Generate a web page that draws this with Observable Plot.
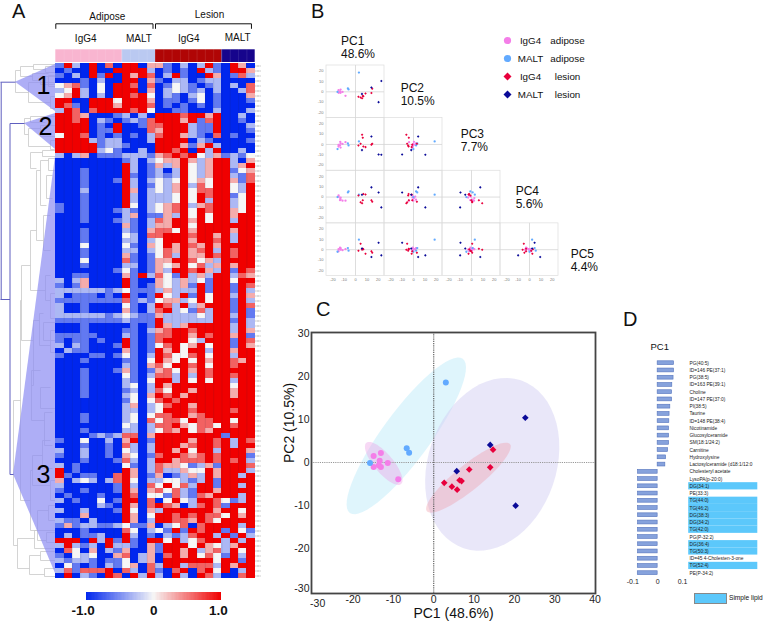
<!DOCTYPE html>
<html><head><meta charset="utf-8">
<script src="https://cdn.jsdelivr.net/npm/d3@7"></script>
<script src="https://cdn.jsdelivr.net/npm/@observablehq/plot@0.6"></script>
<style>
html,body{margin:0;padding:0;background:#fff}
#page{position:relative;width:766px;height:622px;overflow:hidden;background:#fff;font-family:"Liberation Sans",Arial,sans-serif;color:#111}
#page svg{position:absolute;overflow:visible;background:transparent}
.lb{position:absolute;white-space:nowrap;line-height:1}
</style></head><body><div id="page"></div>
<script>
const FONT = '"Liberation Sans",Arial,sans-serif';
// ---------- A: heat map (one string per row; levels below)
const levelValues = {B:-1,b:-0.6,c:-0.3,w:0,s:0.3,r:0.6,R:1};
const heatRows = [
"bRcBRBrB RRBs sbBcBcRb BRsB","BbBBRBBR RRRc BbBbBRcb BRRs","bBcBRbRB RsRr BcRbBBRs Bbrc","BBBbBcBB RRBs bBccBbcc BBBB",
"wsrbBwBR RrBr BbwcbBbc BcBr","cwRcBwBR RRBs BcwcbcBc BBcr","wsRcBcBR RrRw BcbBcwBb BBBs","RRBBRRRw RRRs BbbBbwBb BBBb",
"RrbBRRRs RRRr BbBbBbBb BBBB","cRrBrRRR RrRw BBbbBBBc BBBc",
"RRrsBBBb cBcB RRRrRRsR BBcB","RRrRBcbB bcbr RRRsRbrR BBbB","RRRRBbBR BBbr rRRRcbbR BBBc","RRRRBbbR BBBr sRRRcbbR BBBb",
"wRRrBbBb BbBc rRRscbBr BbBB","RRRRcbcc BBBc RRRRBcbB BBBb","RRRRRbcc bBBB RRRsbsRc BBBB","RRRRRcwb BBcB RRrRBRcR BBcB",
"cBcsBbbb cccb srRrRwcs bcbw","BBBBBBBB bcBc wssRscsR RcBs","BBBBBBBB RcBb scsRwcsR RcsR","BBBbBBBB RcBb cBcRwcsR Rbws",
"BBBbBBBB RbBb cbcRwcsR Rcbr","BBBbBBBb RcBc wcwRwswR Rsbr","BBBbBBBB RcBb wcsRcrwR RwcR","BBBcBBBB RsBc wcsRwrrR RwcR",
"BBBbBBBB RcBc ccwRwRrR RbwR","BBBbBBBB RcBc ccwRwRcR RcwR","bBBbBBBB RwBc wsrRcsrR RcwR","bBBbBBBb cbBc wsrRwRrR RswR",
"BBBbBBBB csBb bscRwRwR RsRR","BBBbBBBb cbBc rsRRsRwR RcRR","BBBBBBBB sbBc ssRRwRRR RRRR","BBBbBBBB cbBs rrwRsRRR RsRR",
"BBBbBBBB wcBr rRRRrRRs RcRR","BBBbBBBB ccBc wRRRsRRr RcRR","BBBwBBBB wbBs wRsRrsRs RRRR","BBBbBBBB ccBc wrsRsrRc RrRR",
"BBBbBBBB sbBb wrcRssRr RrRR","BBBwBBBB rbBb ssRRrwsc RRRR","BBBbBBBB ccBb swsRwrcs RsRR","BBBBBBBb wbBb scRRrRsc RbRr",
"BBbbBBBB sbRc rwbRcscR Rcrs","cBcsBBBB RbBB swcscwbR RwRR","bBbsBBBB RbBb swcsbRbR RbRr","ccccccbc wbbb cscccRbR RbRc",
"cBbbbBbB RbBb RwcRbRwR RcRs","bbbbbbbb rbcb wsscwRwR RbRc","cBBbBBBB wbBc RrcRcsRR RbRr","cBBbBBBB sbBc rRcwbrcR RbRb",
"ccccccbc wcbb sccccwcR RcRb","bbbbbbbb cbbb RccccccR RbRc","BBBbBBBB BbBb RscsRRRR RcRc","BBBbBBBB bbBc srRRrRRR RcRs",
"bbbbbBBB cbBb rrRRsRrR RsRb","bBbbBbBB RbBb rRRRwcRR RbRr","cBcbBBBb RbBb wrRwsRwR RbRs","BcbbBBBB sbBb RsRwRRcR RsRR",
"bBBBbbBb wbBc RrwwrRwR RcRR","BBBbBBBB bbBw RswRwRsR RrsR","BBBBBBBB cbBs rwRRrRwR RrRR","BBBbBBBb sbBb srwRsRrR RRRR",
"BBBbBBBB wbBc rrcRcRrR RrRR","BBBbBBBB cbBw RRcRwRwR RcRR","BBBbBBBB cwBc RsRRRRRR RwRR","BBBbBBBB bcBc rwRRsRRR RsRR",
"BBBbBBBB cwBs RrRsRRRR RsRR","BBBBBBBB bwBw rRrRRRRR RRRR","BBBBBBBB csBc wrRRsRRR RRRR","BBBBBBBB ccBc wRRRrRRR RrRR",
"BBBbBBBB cwBw rrRRsrRR RRRR","BBBbBBBB cwBr wrrwRrrR RwRR","BBBBBBBB wcBc rrRswrrw RrRR","BBBbBBBB ccBc wrsRwrsR RRRR",
"BBBBbcbc rrBs RRRRRRRR bRRR","bBBwBBcB sRBb RRRRsRRr RcRr","BBBbBBbB rcBc RRRsrRRr RcRR","cBBcBBbB wcBc RRsRwRRc RRRs",
"bBBcBBbB swBb rRRrsrRr RRRb","BBBbBBBb rcBc RRsrrrRr RrRc","cBbBBBBB wbBc rsswbcsb RRRr","RBbBBBBB RsBc rccswwRs RRRc",
"RbBbbBBr RsBb sBbcscRs RRcR","sBcwcBcr RwBc cwwcbcRb RRRR","cBBBBBBb RcBr wRwrcRRb RRcR","bBBbBBBb RsBs rwrcbRRs RRRR",
"BbBBBbBB RrBw wbrcbrsR RRcR","cBbBBwBb RRBr BwRwcRRr wbcR","BBBBBcbB RsBr RrsBcrRr bRRR","cBBcBBBb RwBs cRRRRRRs RRwR",
"BBBsBBBB RsBw RRrRrRrr wRsR","cbbBcBBB RsBc RRrrsRrw RRRR","bsbccbbc wbbs BcwrBrRR RRcR","BBBbBBBB rwBc wbRbRrRR bRwb",
"BcBbbcBB RcBb BcbcrRRc RbRc","RRRBRcRb RbBR RwRcwrRR cRcR","cRcbcBRc cbBs bRRRwRsw csRR","BrwBsBcb sBBs bRRsRcsr cRwR",
"bBwcwBBs rBcs BrRsRwrw bRcR","cbccbBbb wBcs BRRRRRRw RRbR","BwbBbBcb wsBr cRRcrrrc RsRR","crbrrrRB rcBr bBrRBrRw RBcR",
"BRBcbBRr BRcR cBRcBRrc BBrR"];
const sampleGroups = [["IgG4 adipose",0,8,"#f9b5d0"],["MALT adipose",8,12,"#bac9f1"],["IgG4 lesion",12,20,"#b00505"],["MALT lesion",20,24,"#16048c"]];
const headerWords = [["Adipose",6.2,16],["Lesion",18.5,14],["IgG4",3.6,38],["MALT",10.0,38],["IgG4",16.0,38],["MALT",21.9,37.5]];
const brackets = [[0,11.7],[12,23.55]];
const heatColor = {type:"linear",domain:[-1,0,1],range:["#0026ee","#f6f6f6","#f00000"]};
// dendrogram: [merge x, row-y top, row-y bottom, child x top, child x bottom]
const greyTree = [[15,70,92,20,28],[20,66,76,33,32],[33,64,69,55,45],[32,73,80,48,40],[28,82,102,55,50],[50,96,108,55,55],[45,66,72,55,55],[48,75,86,55,55],[40,76,84,55,55],
[24,118,134,30,28],[30,116,122,55,45],[28,128,146,40,50],[40,125,136,55,55],[50,140,149,55,55],
[13,400,545,20,17],[20,300,500,21,30],[21,265,340,30,33],[30,230,290,36,45],[36,170,240,40,43],[40,160,205,48,46],[48,158,170,55,55],[46,175,198,52,52],[43,215,250,50,50],[45,275,300,50,50],[50,293,318,55,55],[33,320,385,39,31],[39,313,345,43,50],[43,322,340,55,55],[50,330,352,55,55],[31,370,420,40,44],[40,387,408,50,55],[44,412,445,52,52],[30,470,530,32,37],[32,455,485,42,50],[42,440,468,50,52],[50,480,500,55,55],[37,510,540,48,46],[48,505,520,55,55],[46,532,542,55,55],[17,538,568,34,29],[34,530,548,55,55],[29,555,574,40,44],[40,551,560,55,55],[44,568,576,55,55],[30,152,168,42,36],[42,150,156,55,55]];
const clusterWedges = [["1",15,81.7,64,111,43,85],["2",24,123,113,149,45,126],["3",13,474,156,573,43,474]];
const rootLinks = [[0,81.7,15,81.7],[0.7,81.7,0.7,299],[0,299,9.5,299],[9.5,123,9.5,474],[9.5,123,24,123],[9.5,474,13,474]];
const barTicks = [[-1.045,"-1.0"],[0,"0"],[0.955,"1.0"]];
// ---------- B + C: PCA scores, samples as [PC1,PC2,PC3,PC4,PC5]
const pcNames = ["PC1","PC2","PC3","PC4","PC5"];
const pcLabels = [["PC1","48.6%",341,41],["PC2","10.5%",400.7,88],["PC3","7.7%",460.7,134],["PC4","5.6%",515.7,191],["PC5","4.4%",570.7,254]];
const igg4Adipose = [[-14.9,1.5,-0.5,0.5,0.5],[-13.1,2.2,1,-2.5,1.5],[-13.4,0.4,2.5,-1,0.5],[-11.4,-0.1,0.5,-3.5,-0.5],[-13.6,-0.6,-1,-3,2],[-14.9,-1,-2,1.5,-1.5],[-13.1,-1,-3,-0.5,0],[-8.8,-3.9,2.2,-3.5,0.5]];
const maltAdipose = [[3,18.6,2.9,2.3,9.7],[-6.7,3.3,1,4.5,1.6],[-6.1,2.3,-1,5.5,-1],[-15.8,-0.1,-4.5,0,-2]];
const igg4Lesion = [[14.7,3,0.6,-4.5,-3],[14,-1.1,-0.2,-3,-1.6],[8.8,-1.6,-2.6,2.5,-4],[6.4,-4.1,6.5,-3,1],[6.9,-4.3,-2,3,0.5],[2.6,-4.7,-1,1.5,-1],[4.5,-5.6,0.6,-5,5.8],[5.8,-6.3,9.4,-6,0]];
const maltLesion = [[22.7,10.4,-10,-10,-5.5],[14,4.1,7.7,9.4,-7],[5.7,-2,-5.5,2.3,1.2],[20.3,-10,-9.7,4.5,6.8]];
const groupNames = ["IgG4 adipose","MALT adipose","IgG4 lesion","MALT lesion"];
const groupColors = ["#f47ee8","#62aaff","#e8003c","#0a0a98"];
const groupSymbols = ["circle","circle","diamond2","diamond2"];
const legendWords = [["IgG4","adipose"],["MALT","adipose"],["IgG4","lesion"],["MALT","lesion"]];
// ellipses: [group, cx, cy, ux, uy, vx, vy, fill, opacity]
const ellipses = [["MALT adipose",-6.8,6.2,14,17.9,4.8,-3.3,"#c5ecfa",0.55],["MALT lesion",14.5,-0.4,2.1,20,16.5,1.5,"#d3cff3",0.5],["IgG4 adipose",-12.4,-0.2,4.3,-4.8,1.8,1.4,"#ea9fe6",0.4],["IgG4 lesion",8.6,-3.5,10.3,7.8,2,-2.3,"#ef9aa8",0.38]];
// ---------- D: loadings on PC1
const lipidNames = ["PG(40:5)","ID=146 PE(37:1)","PG(38:5)","ID=163 PE(39:1)","Choline","ID=147 PE(37:0)","PI(38:5)","Taurine","ID=148 PE(38:4)","Nicotinamide","Glucosylceramide","SM(18:1/24:2)","Carnitine","Hydroxylysine","Lactosylceramide (d18:1/12:0","Cholesteryl acetate","LysoPA(p-20:0)","DG(34:1)","PE(33:3)","TG(44:0)","TG(46:2)","DG(38:3)","DG(34:2)","TG(42:0)","PG(P-32:2)","DG(36:4)","TG(50:3)","ID=45 4-Cholesten-3-one","TG(52:4)","PE(P-34:2)"];
const lipidLoadings = [0.066,0.066,0.064,0.059,0.058,0.058,0.051,0.048,0.047,0.046,0.046,0.046,0.042,0.034,0.031,-0.079,-0.079,-0.079,-0.079,-0.079,-0.079,-0.079,-0.079,-0.079,-0.079,-0.079,-0.079,-0.08,-0.08,-0.08];
const simpleLipids = ["DG(34:1)","TG(44:0)","TG(46:2)","DG(38:3)","DG(34:2)","TG(42:0)","DG(36:4)","TG(50:3)","TG(52:4)"];

const page = document.getElementById("page");
function put(svg,left,top){svg.style.left=left+"px";svg.style.top=top+"px";page.appendChild(svg);}
function label(t,x,y,size,opt={}){const d=document.createElement("div");d.className="lb";d.textContent=t;d.style.left=x+"px";d.style.top=(y-size/2)+"px";d.style.fontSize=size+"px";if(opt.weight)d.style.fontWeight=opt.weight;page.appendChild(d);}
const base = {style:{background:"transparent",fontFamily:FONT,color:"#111"}};

// Dendrogram (x: position, y: row position along the heat map)
const treeSegments = greyTree.flatMap(([x,y1,y2,a,b])=>[{x1:x,y1,x2:x,y2},{x1:x,y1,x2:a,y2:y1},{x1:x,y1:y2,x2:b,y2}]);
put(Plot.plot({...base,width:56,height:622,margin:0,x:{domain:[0,56],range:[0,56],axis:null},y:{domain:[0,622],range:[0,622],axis:null},
 marks:[
  Plot.link(treeSegments,{x1:"x1",y1:"y1",x2:"x2",y2:"y2",stroke:"#c9c9c9",strokeWidth:0.8}),
  ...clusterWedges.map(([n,ax,ay,t,b])=>Plot.areaY([{x:ax,y1:ay,y2:ay},{x:55,y1:t,y2:b}],{x:"x",y1:"y1",y2:"y2",fill:"#8f8ff2",fillOpacity:0.72,curve:"linear"})),
  Plot.link(rootLinks,{x1:d=>d[0],y1:d=>d[1],x2:d=>d[2],y2:d=>d[3],stroke:"#5f5fbf",strokeWidth:1}),
  Plot.text(clusterWedges,{x:d=>d[5],y:d=>d[6],text:d=>d[0],fontSize:25,fill:"#000"})
 ]}),0,0);

// Header
put(Plot.plot({...base,width:266,height:64,margin:0,x:{domain:[0,24],range:[55.3,254.7],axis:null},y:{domain:[0,64],range:[0,64],axis:null},
 marks:[
  Plot.rect(sampleGroups,{x1:d=>d[1],x2:d=>d[2],y1:49.3,y2:62,fill:d=>d[3]}),
  Plot.ruleX(d3.range(1,24),{y1:49.3,y2:62,stroke:"#fff",strokeOpacity:0.18,strokeWidth:0.6}),
  Plot.link(brackets.flatMap(([a,b])=>[{a,b,y1:23.3,y2:23.3},{a,b:a,y1:23.3,y2:28.3},{a:b,b,y1:23.3,y2:28.3}]),{x1:"a",x2:"b",y1:"y1",y2:"y2",stroke:"#111",strokeWidth:1}),
  Plot.text(headerWords,{x:d=>d[1],y:d=>d[2],text:d=>d[0],fontSize:10,fill:"#111"})
 ]}),0,0);

// Heat map
const columns = d3.range(24);
const heatCells = heatRows.flatMap((row,i)=>[...row.replace(/ /g,"")].map((c,j)=>({row:i,col:j,value:levelValues[c]})));
put(Plot.plot({...base,width:266,height:580,margin:0,
 x:{domain:[...columns,"names"],range:[55.3,263],padding:0,round:false,axis:null},
 y:{domain:d3.range(heatRows.length),range:[63,578],padding:0,round:false,axis:null},
 color:heatColor,
 marks:[
  Plot.cell(heatCells,{x:"col",y:"row",fill:"value",shapeRendering:"crispEdges"}),
  Plot.ruleX(d3.range(1,24),{x:c=>c,stroke:"#223",strokeOpacity:0.22,strokeWidth:0.5,dx:-4.15,y1:0,y2:heatRows.length-1}),
  Plot.tickY(d3.range(heatRows.length),{x:()=>"names",y:d=>d,stroke:"#bbb",strokeWidth:1.6,strokeDasharray:"0.8,0.6",insetRight:2.5,insetLeft:0.8})
 ]}),0,0);

// Colour bar
put(Plot.plot({...base,width:266,height:32,margin:0,
 x:{domain:[-1,1],range:[85.7,221],axis:null},y:{domain:[0,1],range:[8,0],axis:null},color:heatColor,
 marks:[Plot.rect(d3.range(-1,1,0.02),{x1:d=>d,x2:d=>d+0.021,y1:0,y2:1,fill:d=>d+0.01,shapeRendering:"crispEdges"}),
  Plot.text(barTicks,{x:d=>d[0],y:()=>0,dy:10.5,text:d=>d[1],fontSize:13.5,fontWeight:"bold",fill:"#111"})]}),0,592);

// Scores
const allSamples = [igg4Adipose,maltAdipose,igg4Lesion,maltLesion].flatMap((arr,g)=>arr.map(v=>({group:groupNames[g],v})));
const pairRows = [];
pcNames.forEach((cn,i)=>pcNames.forEach((rn,j)=>{ if(i<j) allSamples.forEach(s=>pairRows.push({col:cn,row:rn,x:s.v[i],y:s.v[j],group:s.group})); }));
const colorScale = {domain:groupNames,range:groupColors};
const symbolScale = {domain:groupNames,range:groupSymbols};
const panels = pairRows.filter((d,i,a)=>a.findIndex(e=>e.col===d.col&&e.row===d.row)===i);
const t5 = d3.range(-20,21,10);
put(Plot.plot({...base,width:262,height:224,marginLeft:26,marginRight:4,marginTop:2,marginBottom:11.5,
 x:{domain:[-25.5,25.5]},y:{domain:[-25.5,25.5]},color:colorScale,symbol:symbolScale,
 fx:{domain:pcNames.slice(0,4),padding:0,round:false,axis:null},fy:{domain:pcNames.slice(1),padding:0,round:false,axis:null},
 marks:[
  Plot.rect(panels,{fx:"col",fy:"row",stroke:"#dddddd",strokeWidth:0.7,fill:"none"}),
  Plot.ruleX(panels,{fx:"col",fy:"row",x:()=>0,stroke:"#d4d4d4",strokeWidth:0.8}),
  Plot.ruleY(panels,{fx:"col",fy:"row",y:()=>0,stroke:"#d4d4d4",strokeWidth:0.8}),
  Plot.axisX({ticks:t5,tickFormat:d=>d,tickSize:0,tickPadding:2,fontSize:4,fill:"#777",label:null}),
  Plot.axisY({ticks:t5,tickFormat:d=>d,tickSize:0,tickPadding:3,fontSize:4,fill:"#777",label:null}),
  Plot.dot(pairRows,{fx:"col",fy:"row",x:"x",y:"y",fill:"group",symbol:"group",r:1.15,stroke:"none"})
 ]}),300,63);
pcLabels.forEach(([a,b,x,y])=>{label(a,x,y,12);label(b,x,y+13.4,12);});

// Legend of B
put(Plot.plot({...base,width:100,height:56,margin:0,x:{domain:[0,100],range:[0,100],axis:null},
 y:{domain:groupNames,range:[1,55],padding:0,axis:null},color:colorScale,symbol:symbolScale,
 marks:[Plot.dot(groupNames,{x:()=>7,y:d=>d,fill:d=>d,symbol:d=>d,r:3.6,stroke:"none"}),
  Plot.text(groupNames,{x:()=>30,y:d=>d,text:(d,i)=>legendWords[i][0],fontSize:9.8,fill:"#111"}),
  Plot.text(groupNames,{x:()=>67,y:d=>d,text:(d,i)=>legendWords[i][1],fontSize:9.8,fill:"#111"})]}),500,38.5);

// Panel C
function ellipseRing([g,cx,cy,ux,uy,vx,vy]){return d3.range(0,361,6).map(a=>{const t=a*Math.PI/180;return{x:cx+ux*Math.cos(t)+vx*Math.sin(t),y:cy+uy*Math.cos(t)+vy*Math.sin(t)};});}
const scoreRows = allSamples.map(s=>({group:s.group,x:s.v[0],y:s.v[1]}));
put(Plot.plot({...base,width:320,height:312,marginLeft:31,marginRight:5,marginTop:12,marginBottom:39,
 x:{domain:[-30.3,40.1],axis:null},y:{domain:[-30.4,30.2],axis:null},color:colorScale,symbol:symbolScale,
 marks:[
  ...ellipses.map(e=>Plot.line(ellipseRing(e),{x:"x",y:"y",fill:e[7],fillOpacity:e[8],stroke:"none",curve:"linear"})),
  Plot.ruleY([0],{stroke:"#999",strokeWidth:1.1,strokeDasharray:"1.2,1"}),
  Plot.ruleX([0],{stroke:"#555",strokeWidth:1.1,strokeDasharray:"1.2,1"}),
  Plot.frame({stroke:"#444",strokeWidth:1.8}),
  Plot.axisX({ticks:d3.range(-20,41,10),tickFormat:d=>d,tickSize:0,tickPadding:2,fontSize:10.5,label:null,fill:"#222"}),
  Plot.text([-30],{x:d=>d,frameAnchor:"bottom",dy:13,dx:5,text:d=>d,fontSize:10.5,fill:"#222"}),
  Plot.axisY({ticks:d3.range(-20,31,10),tickFormat:d=>d,tickSize:0,tickPadding:2,fontSize:10.5,label:null,fill:"#222"}),
  Plot.text([-30],{y:d=>d,frameAnchor:"left",dx:-2,dy:-3,textAnchor:"end",text:d=>d,fontSize:10.5,fill:"#222"}),
  Plot.dot(scoreRows,{x:"x",y:"y",fill:"group",symbol:"group",r:3,stroke:"none"}),
  Plot.text(["PC1 (48.6%)"],{frameAnchor:"bottom",dy:24,fontSize:14,fill:"#111"}),
  Plot.text(["PC2 (10.5%)"],{frameAnchor:"left",dx:-22,rotate:-90,fontSize:14,fill:"#111"})
 ]}),280,320);

// Panel D
const loadingRows = lipidNames.map((n,i)=>({name:n,value:lipidLoadings[i]}));
const labelBandStart = 0.125, labelBandEnd = 0.403, labelX = 0.128;
put(Plot.plot({...base,width:156,height:256,marginLeft:0,marginRight:0,marginTop:0,marginBottom:19.7,
 x:{domain:[-0.1,0.1],range:[22.3,72],axis:null},
 y:{domain:lipidNames,range:[19.1,236.3],padding:0,round:false,axis:null},
 marks:[
  Plot.barX(simpleLipids,{y:d=>d,x1:()=>labelBandStart,x2:()=>labelBandEnd,fill:"#5cc8fb"}),
  Plot.ruleX([-0.1,0,0.1],{y1:lipidNames[0],y2:lipidNames[29],stroke:"#ececec",strokeWidth:0.8}),
  Plot.barX(loadingRows,{y:"name",x1:()=>0,x2:"value",fill:"#86a2dc",stroke:"#5574bd",strokeWidth:0.6,insetTop:1.7,insetBottom:1.7}),
  Plot.text(lipidNames,{x:()=>labelX,y:d=>d,text:d=>d,textAnchor:"start",fontSize:4.8,fill:"#222"}),
  Plot.axisX({ticks:[-0.1,0,0.1],tickFormat:d=>d===0?"0":d,tickSize:0,tickPadding:2,fontSize:7,label:null,fill:"#222"})
 ]}),610,340);
label("PC1",650.5,347,9.5);

// Panel letters and simple-lipid key
[["A",12,10.5,20],["B",311,10.5,20],["C",316,309,20],["D",623,319,20]].forEach(([t,x,y,s])=>label(t,x,y,s));
const key=document.createElement("div");key.style.cssText="position:absolute;left:694px;top:593px;width:33px;height:11px;background:#5cc8fb;border:0.5px solid #888;box-sizing:border-box";page.appendChild(key);
label("Simple lipid",729,598.5,6.6);
</script></body></html>
